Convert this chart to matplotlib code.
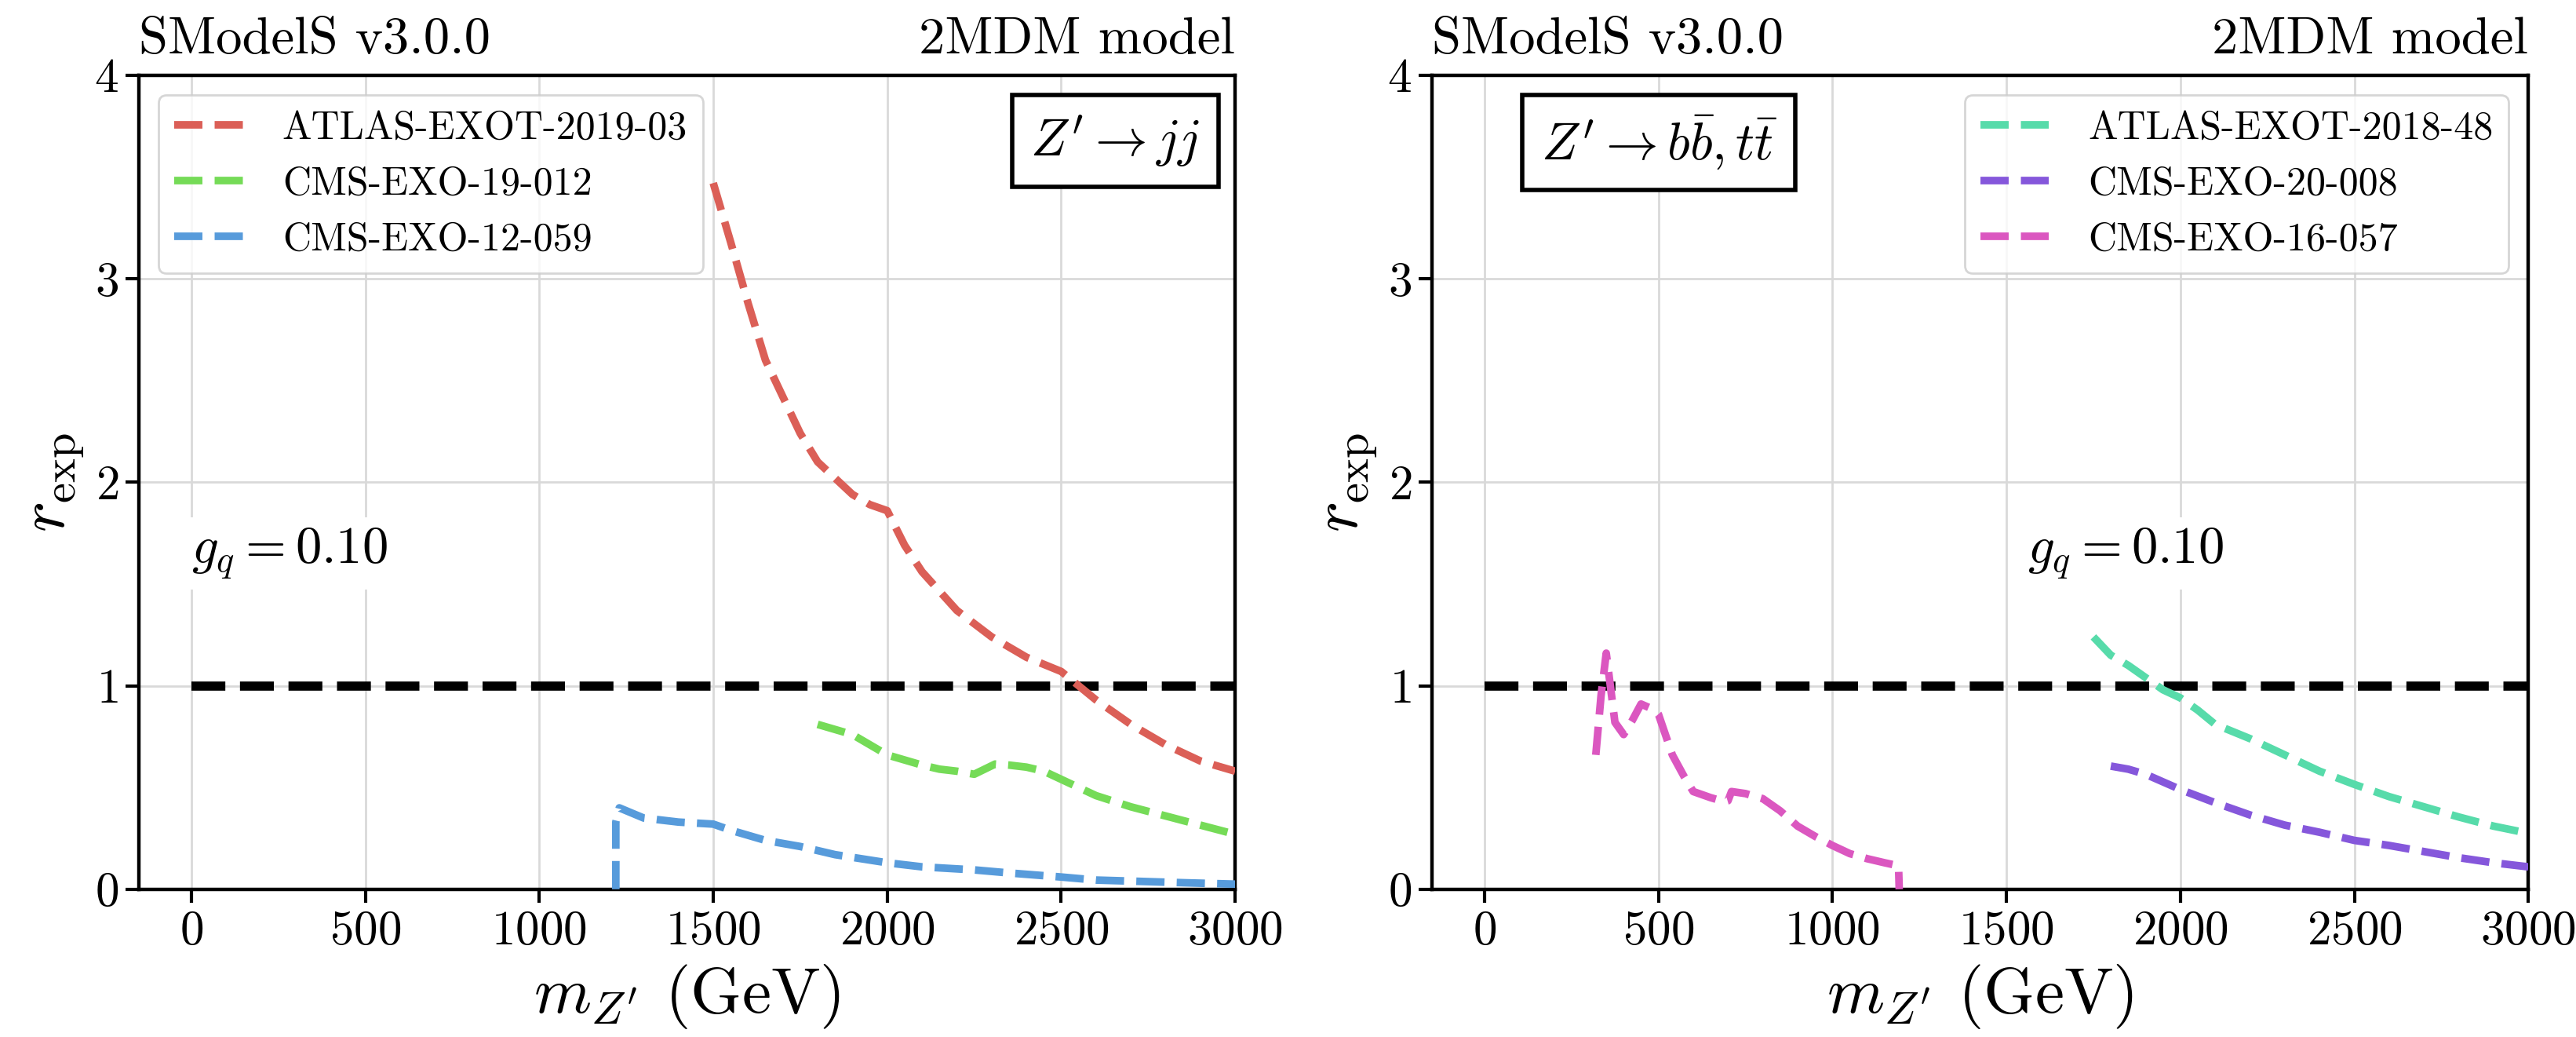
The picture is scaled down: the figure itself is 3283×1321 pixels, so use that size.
import matplotlib
matplotlib.use("Agg")
import matplotlib.pyplot as plt
import seaborn as sns

plt.rcParams["font.family"] = "serif"
plt.rcParams["font.serif"] = ["cmr10"]
plt.rcParams["mathtext.fontset"] = "cm"
plt.rcParams["axes.formatter.use_mathtext"] = True

# --- data ---
# left panel: Z' -> jj
m_atlas_19_03 = [1500, 1550, 1600, 1650, 1700, 1750, 1800, 1850, 1900, 1950, 2000,
                 2050, 2100, 2200, 2300, 2400, 2500, 2550, 2600, 2700, 2800, 2900, 3000]
r_atlas_19_03 = [3.47, 3.18, 2.88, 2.60, 2.42, 2.24, 2.10, 2.02, 1.94, 1.89, 1.86,
                 1.69, 1.56, 1.37, 1.24, 1.14, 1.07, 1.00, 0.93, 0.81, 0.71, 0.63, 0.58]

m_cms_19_012 = [1800, 1900, 2000, 2100, 2150, 2200, 2250, 2280, 2310, 2350, 2400,
                2450, 2500, 2600, 2700, 2800, 2900, 3000]
r_cms_19_012 = [0.81, 0.76, 0.66, 0.61, 0.59, 0.58, 0.565, 0.59, 0.615, 0.61, 0.60,
                0.58, 0.54, 0.46, 0.405, 0.36, 0.315, 0.27]

m_cms_12_059 = [1220, 1220, 1230, 1300, 1400, 1500, 1550, 1650, 1750, 1850, 2000,
                2100, 2250, 2350, 2500, 2600, 2700, 2850, 3000]
r_cms_12_059 = [0.0, 0.33, 0.40, 0.35, 0.33, 0.32, 0.29, 0.24, 0.21, 0.17, 0.13,
                0.11, 0.095, 0.08, 0.06, 0.045, 0.04, 0.032, 0.025]

# right panel: Z' -> bb, tt
m_atlas_18_48 = [1750, 1800, 1850, 1900, 1950, 2000, 2050, 2100, 2200, 2300, 2400,
                 2500, 2600, 2700, 2800, 2900, 3000]
r_atlas_18_48 = [1.24, 1.15, 1.10, 1.04, 0.98, 0.94, 0.88, 0.81, 0.74, 0.66, 0.58,
                 0.515, 0.455, 0.405, 0.355, 0.31, 0.275]

m_cms_20_008 = [1800, 1850, 1900, 2000, 2100, 2200, 2300, 2400, 2500, 2600, 2700,
                2800, 2900, 3000]
r_cms_20_008 = [0.605, 0.59, 0.565, 0.49, 0.425, 0.365, 0.315, 0.28, 0.24, 0.215,
                0.185, 0.155, 0.13, 0.11]

m_cms_16_057 = [320, 335, 350, 375, 400, 425, 450, 490, 500, 540, 575, 600, 650, 690,
                700, 710, 750, 800, 850, 900, 950, 1000, 1050, 1100, 1150, 1190, 1192]
r_cms_16_057 = [0.66, 0.95, 1.16, 0.82, 0.76, 0.83, 0.91, 0.88, 0.86, 0.66, 0.55, 0.48,
                0.45, 0.43, 0.435, 0.48, 0.47, 0.445, 0.385, 0.31, 0.26, 0.215, 0.175,
                0.15, 0.13, 0.115, 0.0]

r_limit = 1.0
g_q = 0.10

pal = sns.color_palette("hls", 7)

panels = [
    dict(curves=[("ATLAS-EXOT-2019-03", m_atlas_19_03, r_atlas_19_03, pal[0]),
                 ("CMS-EXO-19-012", m_cms_19_012, r_cms_19_012, pal[2]),
                 ("CMS-EXO-12-059", m_cms_12_059, r_cms_12_059, pal[4])],
         decay=r"$Z' \rightarrow jj$", box_x=0.968, box_ha="right",
         legend_loc="upper left", gq_x=0),
    dict(curves=[("ATLAS-EXOT-2018-48", m_atlas_18_48, r_atlas_18_48, pal[3]),
                 ("CMS-EXO-20-008", m_cms_20_008, r_cms_20_008, pal[5]),
                 ("CMS-EXO-16-057", m_cms_16_057, r_cms_16_057, pal[6])],
         decay=r"$Z' \rightarrow b\bar{b}, t\bar{t}$", box_x=0.099, box_ha="left",
         legend_loc="upper right", gq_x=1560),
]

fig = plt.figure(figsize=(16.415, 6.605), dpi=200)
lefts = [0.054, 0.556]

for left, p in zip(lefts, panels):
    ax = fig.add_axes([left, 0.1425, 0.4255, 0.785])
    ax.hlines(r_limit, 0, 3000, colors="black", linestyles="--", lw=4.2, zorder=2)
    for label, m, r, c in p["curves"]:
        ax.plot(m, r, ls="--", lw=3.5, color=c, label=label, zorder=3)

    ax.set_xlim(-150, 3000)
    ax.set_ylim(0, 4)
    ax.set_xticks(range(0, 3001, 500))
    ax.set_yticks(range(0, 5))
    ax.grid(True, color="0.85", lw=1.0, zorder=0)
    ax.set_axisbelow(True)
    ax.tick_params(labelsize=22, length=6, width=1.5)
    for s in ax.spines.values():
        s.set_linewidth(1.6)

    ax.set_xlabel(r"$m_{Z'}$ (GeV)", fontsize=30, labelpad=4)
    ax.set_ylabel(r"$r_{\rm exp}$", fontsize=30, labelpad=4)
    ax.set_title("SModelS v3.0.0", loc="left", fontsize=24, pad=10)
    ax.set_title("2MDM model", loc="right", fontsize=24, pad=10)

    ax.legend(loc=p["legend_loc"], fontsize=18, handlelength=1.75,
              handletextpad=1.0, framealpha=0.8, fancybox=True)

    ax.text(p["box_x"], 0.953, p["decay"], transform=ax.transAxes, fontsize=24,
            ha=p["box_ha"], va="top",
            bbox=dict(boxstyle="square,pad=0.35", fc="white", ec="black", lw=2))
    ax.text(p["gq_x"], 1.65, r"$g_q = %.2f$" % g_q, fontsize=24, ha="left", va="center",
            bbox=dict(fc="white", ec="none"), zorder=1)

fig.savefig("out.png", dpi=200)
